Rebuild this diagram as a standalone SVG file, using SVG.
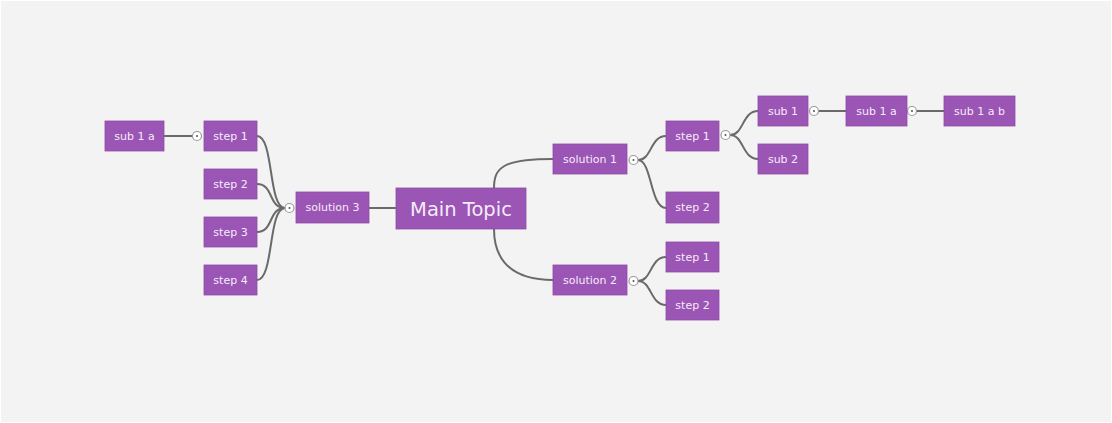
<svg xmlns="http://www.w3.org/2000/svg" width="1112" height="423" viewBox="0 0 1112 423">
<style>
.n{fill:#9b55b5;stroke:#8e4aa8;stroke-width:0.8}
.t{fill:#f6ebf8;font-family:"DejaVu Sans",Verdana,sans-serif;font-size:11px;text-anchor:middle;dominant-baseline:central}
.big{font-size:19.5px}
.c{fill:none;stroke:#6a6a6a;stroke-width:2}
.k{fill:#ffffff;stroke:#9a9a9a;stroke-width:1.2}
.d{fill:#555}
</style>
<rect x="0" y="0" width="1112" height="423" fill="#ffffff"/>
<rect x="1" y="1" width="1110" height="421" fill="#f3f3f3"/>
<g id="connectors">
<path class="c" d="M369,208 H396"/>
<path class="c" d="M494,188 C494,168 502,159 553,159"/>
<path class="c" d="M494,229 C494,250 502,280 553,280"/>
<path class="c" d="M285,208 C268,208 274,136 257,136"/>
<path class="c" d="M285,208 C268,208 274,184 257,184"/>
<path class="c" d="M285,208 C268,208 274,232 257,232"/>
<path class="c" d="M285,208 C268,208 274,280 257,280"/>
<path class="c" d="M164,136 H192"/>
<path class="c" d="M638,160 C652,160 650,136 666,136"/>
<path class="c" d="M638,160 C652,160 650,208 666,208"/>
<path class="c" d="M638,281 C652,281 650,257 666,257"/>
<path class="c" d="M638,281 C652,281 650,305 666,305"/>
<path class="c" d="M730,135 C744,135 742,111 758,111"/>
<path class="c" d="M730,135 C744,135 742,159 758,159"/>
<path class="c" d="M818,111 H846"/>
<path class="c" d="M916,111 H944"/>
</g>
<g id="toggles">
<circle class="k" cx="197" cy="136" r="4.5"/><circle class="d" cx="197" cy="136" r="1"/>
<circle class="k" cx="289.5" cy="208" r="4.5"/><circle class="d" cx="289.5" cy="208" r="1"/>
<circle class="k" cx="633.5" cy="160" r="4.5"/><circle class="d" cx="633.5" cy="160" r="1"/>
<circle class="k" cx="633.5" cy="281" r="4.5"/><circle class="d" cx="633.5" cy="281" r="1"/>
<circle class="k" cx="725.5" cy="135" r="4.5"/><circle class="d" cx="725.5" cy="135" r="1"/>
<circle class="k" cx="814" cy="111" r="4.5"/><circle class="d" cx="814" cy="111" r="1"/>
<circle class="k" cx="912" cy="111" r="4.5"/><circle class="d" cx="912" cy="111" r="1"/>
</g>
<g id="main"><rect class="n" x="396" y="188" width="130" height="41"/><text class="t big" x="461" y="209">Main Topic</text></g>
<g id="solution3"><rect class="n" x="296" y="192" width="73" height="31"/><text class="t" x="332.5" y="207.5">solution 3</text></g>
<g id="l-step1"><rect class="n" x="204" y="121" width="53" height="30"/><text class="t" x="230.5" y="136">step 1</text></g>
<g id="l-step2"><rect class="n" x="204" y="169" width="53" height="30"/><text class="t" x="230.5" y="184">step 2</text></g>
<g id="l-step3"><rect class="n" x="204" y="217" width="53" height="30"/><text class="t" x="230.5" y="232">step 3</text></g>
<g id="l-step4"><rect class="n" x="204" y="265" width="53" height="30"/><text class="t" x="230.5" y="280">step 4</text></g>
<g id="l-sub1a"><rect class="n" x="105" y="121" width="59" height="30"/><text class="t" x="134.5" y="136">sub 1 a</text></g>
<g id="solution1"><rect class="n" x="553" y="144" width="74" height="30"/><text class="t" x="590" y="159">solution 1</text></g>
<g id="solution2"><rect class="n" x="553" y="265" width="74" height="30"/><text class="t" x="590" y="280">solution 2</text></g>
<g id="s1-step1"><rect class="n" x="666" y="121" width="53" height="30"/><text class="t" x="692.5" y="136">step 1</text></g>
<g id="s1-step2"><rect class="n" x="666" y="192" width="53" height="31"/><text class="t" x="692.5" y="207.5">step 2</text></g>
<g id="s2-step1"><rect class="n" x="666" y="242" width="53" height="30"/><text class="t" x="692.5" y="257">step 1</text></g>
<g id="s2-step2"><rect class="n" x="666" y="290" width="53" height="30"/><text class="t" x="692.5" y="305">step 2</text></g>
<g id="sub1"><rect class="n" x="758" y="96" width="50" height="30"/><text class="t" x="783" y="111">sub 1</text></g>
<g id="sub2"><rect class="n" x="758" y="144" width="50" height="30"/><text class="t" x="783" y="159">sub 2</text></g>
<g id="r-sub1a"><rect class="n" x="846" y="96" width="61" height="30"/><text class="t" x="876.5" y="111">sub 1 a</text></g>
<g id="sub1ab"><rect class="n" x="944" y="96" width="71" height="30"/><text class="t" x="979.5" y="111">sub 1 a b</text></g>
</svg>
